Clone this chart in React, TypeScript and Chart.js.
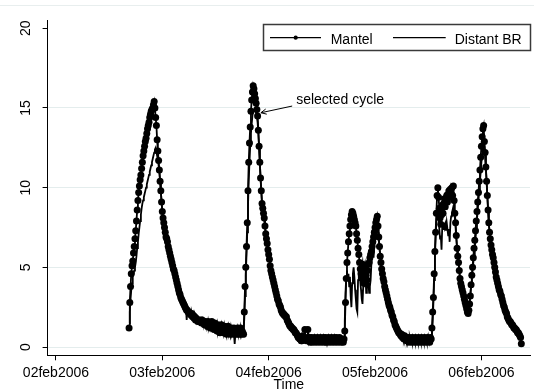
import React, { useEffect, useRef } from "react";
import { Chart, registerables } from "chart.js";

Chart.register(...registerables);

// Readings every 10 minutes, starting 02feb2006 16:30 (hours since 02feb2006 00:00)
const START_HOUR = 16.5;
const STEP_HOURS = 1 / 6;

const tickHours = [0, 24, 48, 72, 96];
const tickLabels = ["02feb2006", "03feb2006", "04feb2006", "05feb2006", "06feb2006"];
const yTicks = [0, 5, 10, 15, 20];
const seriesNames = ["Mantel", "Distant BR"];
const axisTitle = "Time";
const annotationText = "selected cycle";
// annotation positions in data units [hour, value]
const annotationTextAt = [54.2, 15.47];
const arrowFrom = [53.3, 15.12];
const arrowTo = [46.25, 14.7];

const mantel = [
  1.2, 2.8, 3.8, 4.6, 5.1, 5.4, // 16:30
  5.9, 6.3, 6.8, 7.3, 7.9, 8.6,
  9.2, 9.7, 10.1, 10.5, 10.8, 11.2,
  11.6, 12.0, 12.3, 12.6, 12.9, 13.1,
  13.4, 13.7, 13.9, 14.1, 14.4, 14.6,
  14.8, 14.9, 15.0, 15.2, 15.4, 15.0,
  14.4, 13.9, 13.0, 12.3, 11.7, 11.1, // 22:30
  10.4, 9.8, 9.1, 8.5, 8.1, 7.8,
  7.5, 7.2, 6.9, 6.8, 6.6, 6.3,
  6.1, 5.9, 5.7, 5.5, 5.3, 5.1,
  4.9, 4.8, 4.6, 4.4, 4.2, 4.0,
  3.8, 3.6, 3.4, 3.3, 3.1, 3.0,
  2.9, 2.8, 2.7, 2.6, 2.5, 2.4, // 28:30
  2.3, 2.3, 2.2, 2.2, 2.1, 2.1,
  2.0, 2.1, 1.9, 2.0, 1.8, 1.9,
  1.7, 1.8, 1.7, 1.6, 1.7, 1.6,
  1.6, 1.7, 1.5, 1.7, 1.5, 1.6,
  1.4, 1.6, 1.4, 1.5, 1.3, 1.6,
  1.3, 1.5, 1.2, 1.4, 1.6, 1.2, // 34:30
  1.4, 1.1, 1.5, 1.2, 1.3, 1.0,
  1.4, 1.1, 1.3, 0.9, 1.2, 1.4,
  1.0, 1.2, 0.9, 1.3, 1.0, 1.2,
  0.8, 1.1, 1.3, 0.9, 1.1, 0.8,
  1.2, 0.9, 1.1, 0.8, 1.2, 0.9,
  1.1, 0.8, 1.0, 1.2, 0.8, 1.1, // 40:30
  0.9, 1.2, 0.8, 1.0, 0.9, 0.8,
  2.2, 3.8, 5.0, 6.3, 7.8, 9.8,
  11.6, 12.8, 13.8, 14.8, 15.5, 16.0,
  16.4, 16.2, 15.9, 15.6, 15.3, 14.9,
  14.5, 13.6, 12.6, 11.6, 10.6, 9.8,
  9.0, 8.7, 8.4, 8.1, 7.6, 7.1, // 46:30
  6.8, 6.5, 6.1, 5.8, 5.5, 5.1,
  4.8, 4.6, 4.4, 4.2, 4.0, 3.8,
  3.6, 3.4, 3.2, 3.0, 2.9, 2.7,
  2.6, 2.5, 2.3, 2.2, 2.1, 2.1,
  2.0, 2.0, 1.9, 1.9, 1.7, 1.6,
  1.5, 1.4, 1.3, 1.3, 1.2, 1.2, // 52:30
  1.1, 1.1, 1.0, 0.9, 0.9, 0.8,
  0.7, 0.6, 0.6, 0.5, 0.5, 0.4,
  0.4, 0.7, 0.5, 0.6, 1.1, 0.5,
  0.4, 0.6, 1.1, 0.4, 0.6, 0.3,
  0.5, 0.6, 0.3, 0.5, 0.4, 0.6,
  0.3, 0.5, 0.4, 0.6, 0.3, 0.5, // 58:30
  0.4, 0.6, 0.3, 0.5, 0.4, 0.6,
  0.3, 0.5, 0.6, 0.3, 0.5, 0.4,
  0.6, 0.3, 0.5, 0.4, 0.6, 0.3,
  0.5, 0.4, 0.6, 0.3, 0.5, 0.6,
  0.4, 0.3, 0.5, 0.6, 0.4, 0.3,
  0.5, 0.4, 0.3, 0.5, 1.0, 2.8, // 64:30
  4.3, 5.3, 5.9, 6.6, 7.1, 7.6,
  8.0, 8.3, 8.5, 8.4, 8.2, 8.0,
  7.8, 7.6, 7.1, 6.7, 6.2, 5.8,
  5.3, 4.9, 4.6, 4.9, 5.2, 4.3,
  4.0, 4.8, 5.1, 4.5, 4.2, 4.8,
  5.2, 5.3, 5.6, 5.8, 6.0, 6.3, // 70:30
  6.6, 6.9, 7.2, 7.5, 7.8, 8.0,
  8.2, 7.6, 6.9, 6.3, 5.7, 5.3,
  4.9, 4.6, 4.3, 4.1, 3.8, 3.6,
  3.4, 3.2, 3.0, 2.8, 2.6, 2.5,
  2.3, 2.2, 2.0, 1.9, 1.7, 1.6,
  1.4, 1.3, 1.2, 1.1, 1.0, 0.9, // 76:30
  0.9, 0.8, 0.7, 0.8, 0.6, 0.7,
  0.5, 0.7, 0.5, 0.6, 0.4, 0.6,
  0.5, 0.3, 0.6, 0.4, 0.5, 0.3,
  0.6, 0.4, 0.5, 0.3, 0.6, 0.4,
  0.5, 0.3, 0.6, 0.4, 0.5, 0.3,
  0.6, 0.4, 0.5, 0.3, 0.6, 0.4, // 82:30
  0.5, 0.3, 0.6, 0.4, 0.5, 0.3,
  0.6, 0.5, 1.2, 2.2, 3.1, 4.6,
  6.0, 7.2, 8.4, 9.5, 10.0, 9.4,
  8.7, 8.1, 7.7, 8.3, 8.9, 8.4,
  9.0, 9.3, 8.8, 9.2, 9.5, 9.1,
  9.6, 9.8, 9.4, 9.9, 9.6, 10.0, // 88:30
  9.5, 10.1, 9.2, 8.4, 7.8, 7.0,
  6.2, 5.7, 5.3, 4.8, 4.3, 4.0,
  3.8, 3.6, 3.4, 3.2, 3.0, 2.8,
  2.6, 2.4, 2.2, 2.1, 2.3, 2.7,
  3.2, 3.9, 4.5, 5.0, 5.6, 6.2,
  6.7, 7.3, 7.9, 8.5, 9.1, 9.7, // 94:30
  10.4, 11.1, 11.9, 12.6, 13.2, 13.7,
  13.9, 12.9, 12.2, 11.3, 10.4, 9.5,
  8.6, 7.8, 7.2, 6.8, 6.4, 6.1,
  5.8, 5.6, 5.3, 5.0, 4.7, 4.4,
  4.2, 4.0, 3.8, 3.6, 3.5, 3.3,
  3.2, 3.0, 2.8, 2.6, 2.5, 2.3, // 100:30
  2.2, 2.1, 1.9, 1.8, 1.7, 1.6,
  1.6, 1.5, 1.4, 1.4, 1.3, 1.2,
  1.2, 1.1, 1.1, 1.0, 0.9, 0.9,
  0.8, 0.7, 0.6, 0.2,
];

const distantBR = [
  1.5, 2.2, 3.0, 3.6, 4.0, 4.4, // 16:30
  4.6, 4.8, 5.0, 5.3, 5.7, 6.2,
  6.6, 7.1, 7.5, 7.9, 8.3, 8.7,
  9.0, 9.2, 9.4, 9.6, 9.8, 10.0,
  10.2, 10.4, 10.6, 10.8, 11.0, 11.2,
  11.4, 11.6, 11.8, 12.0, 12.2, 12.4,
  12.5, 12.3, 12.0, 11.8, 11.4, 11.0, // 22:30
  10.4, 9.8, 9.1, 8.5, 8.1, 7.8,
  7.5, 7.2, 7.0, 6.8, 6.5, 6.3,
  6.1, 5.9, 5.7, 5.5, 5.3, 5.1,
  4.9, 4.8, 4.6, 4.4, 4.2, 4.0,
  3.8, 3.6, 3.4, 3.3, 3.1, 3.0,
  2.9, 2.8, 2.7, 2.6, 2.5, 2.4, // 28:30
  1.7, 2.3, 2.2, 2.2, 2.1, 2.1,
  2.0, 2.0, 1.9, 1.9, 1.8, 1.8,
  1.7, 1.7, 1.7, 1.6, 1.6, 1.6,
  1.6, 1.6, 1.5, 1.5, 1.5, 1.4,
  1.4, 1.4, 1.3, 1.4, 1.3, 1.3,
  1.3, 1.2, 1.2, 1.3, 1.2, 1.2, // 34:30
  1.1, 1.2, 1.1, 1.1, 1.2, 1.0,
  1.1, 1.0, 1.1, 1.0, 1.0, 1.1,
  1.0, 0.9, 1.0, 1.0, 0.9, 1.0,
  0.9, 0.9, 1.0, 0.9, 0.9, 0.8,
  0.9, 0.9, 0.8, 0.9, 0.8, 0.2,
  0.9, 0.8, 0.9, 0.8, 0.8, 0.9, // 40:30
  0.8, 0.9, 0.8, 0.8, 0.8, 0.9,
  1.8, 3.2, 4.5, 5.8, 7.2, 8.8,
  10.4, 11.6, 12.6, 13.4, 14.0, 14.5,
  14.8, 14.9, 14.9, 14.8, 14.7, 14.5,
  14.1, 13.4, 12.5, 11.6, 10.6, 9.8,
  9.0, 8.7, 8.4, 8.1, 7.6, 7.1, // 46:30
  6.8, 6.5, 6.1, 5.8, 5.5, 5.1,
  4.8, 4.6, 4.4, 4.2, 4.0, 3.8,
  3.6, 3.4, 3.2, 3.0, 2.9, 2.7,
  2.6, 2.5, 2.3, 2.2, 2.1, 2.1,
  2.0, 2.0, 1.9, 1.9, 1.7, 1.6,
  1.5, 1.4, 1.3, 1.3, 1.2, 1.2, // 52:30
  1.1, 1.1, 1.0, 0.9, 0.9, 0.8,
  0.7, 0.6, 0.6, 0.5, 0.5, 0.4,
  0.5, 0.5, 0.5, 0.5, 0.5, 0.5,
  0.5, 0.4, 0.5, 0.4, 0.4, 0.4,
  0.4, 0.4, 0.4, 0.4, 0.4, 0.4,
  0.4, 0.4, 0.4, 0.4, 0.4, 0.4, // 58:30
  0.4, 0.4, 0.4, 0.4, 0.4, 0.4,
  0.4, 0.4, 0.4, 0.4, 0.4, 0.4,
  0.4, 0.4, 0.4, 0.4, 0.4, 0.4,
  0.4, 0.4, 0.4, 0.4, 0.4, 0.4,
  0.4, 0.4, 0.4, 0.4, 0.4, 0.4,
  0.4, 0.4, 0.4, 0.4, 1.6, 3.4, // 64:30
  4.4, 4.8, 4.2, 4.6, 3.8, 4.4,
  3.2, 2.5, 4.0, 4.6, 5.0, 4.4,
  3.6, 3.0, 2.4, 2.2, 4.2, 4.7,
  4.4, 4.1, 3.6, 3.0, 2.7, 3.8,
  4.6, 5.0, 4.6, 3.4, 3.8, 4.2,
  4.0, 3.4, 3.8, 4.2, 5.2, 5.8, // 70:30
  6.0, 5.6, 6.4, 7.0, 7.4, 7.6,
  7.4, 7.2, 6.7, 6.2, 5.7, 5.3,
  4.9, 4.6, 4.3, 4.1, 3.8, 3.6,
  3.4, 3.2, 3.0, 2.8, 2.6, 2.5,
  2.3, 2.2, 2.0, 1.9, 1.7, 1.6,
  1.4, 1.3, 1.2, 1.1, 1.0, 0.9, // 76:30
  0.9, 0.8, 0.7, 0.7, 0.6, 0.6,
  0.5, 0.5, 0.5, 0.5, 0.5, 0.5,
  0.5, 0.4, 0.5, 0.4, 0.4, 0.4,
  0.4, 0.4, 0.4, 0.4, 0.4, 0.4,
  0.4, 0.4, 0.4, 0.4, 0.4, 0.4,
  0.4, 0.4, 0.4, 0.4, 0.4, 0.4, // 82:30
  0.4, 0.4, 0.4, 0.4, 0.4, 0.4,
  0.4, 0.4, 0.8, 1.5, 2.8, 4.2,
  5.6, 6.8, 7.8, 8.4, 8.6, 8.2,
  7.4, 6.8, 7.0, 6.1, 7.6, 7.4,
  7.8, 7.5, 7.7, 7.3, 7.8, 7.4,
  7.0, 7.4, 6.6, 7.8, 8.2, 8.4, // 88:30
  8.6, 8.8, 8.6, 8.1, 7.5, 6.8,
  6.2, 5.7, 5.3, 4.8, 4.3, 4.0,
  3.8, 3.6, 3.4, 3.2, 3.0, 2.8,
  2.6, 2.5, 2.4, 2.3, 2.6, 2.9,
  3.3, 3.8, 4.3, 4.8, 5.3, 5.8,
  6.3, 6.8, 7.4, 8.0, 8.6, 9.2, // 94:30
  9.8, 10.4, 11.0, 11.6, 12.1, 12.6,
  12.9, 12.6, 12.0, 11.2, 10.4, 9.5,
  8.6, 7.8, 7.2, 6.8, 6.4, 6.1,
  5.8, 5.6, 5.3, 5.0, 4.7, 4.4,
  4.2, 4.0, 3.8, 3.6, 3.5, 3.3,
  3.2, 3.0, 2.8, 2.6, 2.5, 2.3, // 100:30
  2.2, 2.1, 1.9, 1.8, 1.7, 1.6,
  1.6, 1.5, 1.4, 1.4, 1.3, 1.2,
  1.2, 1.1, 1.1, 1.0, 0.9, 0.9,
  0.8, 0.7, 0.6, 0.3,
];

const FONT_FAMILY = "'Liberation Sans', Arial, Helvetica, sans-serif";
const FONT = `14px ${FONT_FAMILY}`;
const GRID_COLOR = "#e4eded";

const toPoints = (values: number[]) =>
  values.map((v, i) => ({ x: START_HOUR + i * STEP_HOURS, y: v }));

const overlayPlugin = {
  id: "stataOverlay",
  afterDraw(chart: any) {
    const ctx: CanvasRenderingContext2D = chart.ctx;
    const xs = chart.scales.x;
    const ys = chart.scales.y;
    ctx.save();

    // faint outer region line at the top
    ctx.strokeStyle = "#e8eeee";
    ctx.lineWidth = 1;
    ctx.beginPath();
    ctx.moveTo(0, 5.5);
    ctx.lineTo(chart.width, 5.5);
    ctx.stroke();

    // legend box
    const bx = 263.5, by = 24.5, bw = 267, bh = 26;
    ctx.fillStyle = "#ffffff";
    ctx.fillRect(bx, by, bw, bh);
    ctx.strokeStyle = "#3a3a3a";
    ctx.lineWidth = 1.5;
    ctx.strokeRect(bx, by, bw, bh);

    const ly = 37.7;
    ctx.strokeStyle = "#000";
    ctx.lineWidth = 1.3;
    ctx.beginPath();
    ctx.moveTo(270, ly);
    ctx.lineTo(321, ly);
    ctx.moveTo(393, ly);
    ctx.lineTo(445.7, ly);
    ctx.stroke();
    ctx.fillStyle = "#000";
    ctx.beginPath();
    ctx.arc(295.7, ly, 2.1, 0, Math.PI * 2);
    ctx.fill();

    ctx.font = FONT;
    ctx.textAlign = "left";
    ctx.textBaseline = "alphabetic";
    ctx.fillText(seriesNames[0], 330.7, 44.3);
    ctx.fillText(seriesNames[1], 454.7, 44.3);

    // annotation with arrow
    const tx = xs.getPixelForValue(annotationTextAt[0]);
    const ty = ys.getPixelForValue(annotationTextAt[1]);
    ctx.textBaseline = "middle";
    ctx.fillText(annotationText, tx, ty);

    const ax = xs.getPixelForValue(arrowFrom[0]);
    const ay = ys.getPixelForValue(arrowFrom[1]);
    const bx2 = xs.getPixelForValue(arrowTo[0]);
    const by2 = ys.getPixelForValue(arrowTo[1]);
    ctx.lineWidth = 1;
    ctx.beginPath();
    ctx.moveTo(ax, ay);
    ctx.lineTo(bx2, by2);
    const ang = Math.atan2(ay - by2, ax - bx2);
    const hl = 6;
    ctx.moveTo(bx2 + hl * Math.cos(ang + 0.45), by2 + hl * Math.sin(ang + 0.45));
    ctx.lineTo(bx2, by2);
    ctx.lineTo(bx2 + hl * Math.cos(ang - 0.45), by2 + hl * Math.sin(ang - 0.45));
    ctx.stroke();

    ctx.restore();
  },
};

export default function App() {
  const canvasRef = useRef<HTMLCanvasElement | null>(null);

  useEffect(() => {
    document.body.style.margin = "0";
    const canvas = canvasRef.current;
    if (!canvas) return;

    const chart = new Chart(canvas, {
      type: "line",
      data: {
        datasets: [
          {
            label: seriesNames[1],
            data: toPoints(distantBR),
            borderColor: "#000",
            backgroundColor: "#000",
            borderWidth: 1.8,
            pointRadius: 0,
            tension: 0,
            order: 0,
          },
          {
            label: seriesNames[0],
            data: toPoints(mantel),
            borderColor: "#000",
            backgroundColor: "#000",
            borderWidth: 1.8,
            pointRadius: 3.5,
            pointBackgroundColor: "#000",
            pointBorderColor: "#000",
            pointBorderWidth: 0,
            tension: 0,
            order: 1,
          },
        ],
      },
      options: {
        responsive: false,
        animation: false,
        events: [],
        layout: { padding: { top: 20, left: 0, right: 0, bottom: 0 } },
        plugins: {
          legend: { display: false },
          tooltip: { enabled: false },
          title: { display: false },
        },
        font: { family: FONT_FAMILY, size: 14 },
        scales: {
          x: {
            type: "linear",
            min: -1.88,
            max: 106.96,
            afterBuildTicks: (scale: any) => {
              scale.ticks = tickHours.map((v) => ({ value: v }));
            },
            afterFit: (scale: any) => {
              scale.height = 34.7;
            },
            ticks: {
              autoSkip: false,
              maxRotation: 0,
              minRotation: 0,
              padding: 4.8,
              color: "#000",
              font: { family: FONT_FAMILY, size: 14 },
              callback: (value: any) => {
                const idx = tickHours.indexOf(Number(value));
                return idx >= 0 ? tickLabels[idx] : "";
              },
            },
            grid: {
              drawOnChartArea: false,
              drawTicks: true,
              tickLength: 5,
              tickColor: "#000",
              tickWidth: 1,
            },
            border: { display: true, color: "#000", width: 1 },
            title: {
              display: true,
              text: axisTitle,
              color: "#000",
              font: { family: FONT_FAMILY, size: 14 },
              padding: { top: 0, bottom: -3.8 },
            },
          },
          y: {
            type: "linear",
            min: -0.52,
            max: 20.52,
            afterBuildTicks: (scale: any) => {
              scale.ticks = yTicks.map((v) => ({ value: v }));
            },
            afterFit: (scale: any) => {
              scale.width = 47.6;
            },
            ticks: {
              minRotation: 90,
              maxRotation: 90,
              crossAlign: "center",
              padding: 8.8,
              color: "#000",
              font: { family: FONT_FAMILY, size: 14 },
              callback: (value: any) => String(value),
            },
            grid: {
              drawOnChartArea: true,
              drawTicks: true,
              tickLength: 5,
              tickColor: "#000",
              tickWidth: 1,
              lineWidth: 1,
              color: (c: any) =>
                c.tick && c.tick.value === yTicks[yTicks.length - 1] ? "rgba(0,0,0,0)" : GRID_COLOR,
            },
            border: { display: true, color: "#000", width: 1 },
          },
        },
      } as any,
      plugins: [overlayPlugin],
    });

    return () => chart.destroy();
  }, []);

  return (
    <canvas
      ref={canvasRef}
      width={534}
      height={390}
      style={{ display: "block", width: 534, height: 390 }}
    />
  );
}
